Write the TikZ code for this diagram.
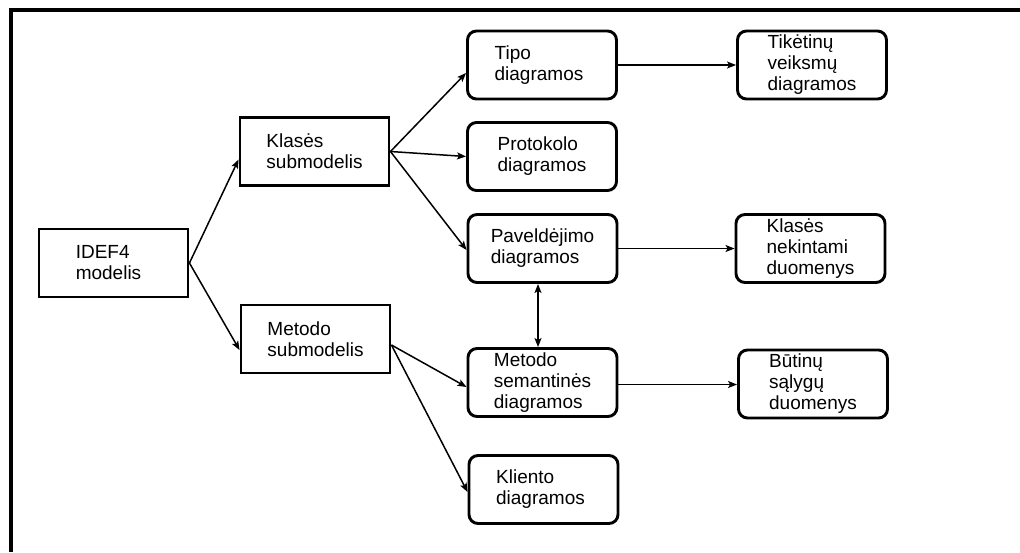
\documentclass[tikz,border=0pt]{standalone}
\usepackage{fontspec}
\setmainfont{Liberation Sans}
\usetikzlibrary{calc,arrows.meta}
\begin{document}
\begin{tikzpicture}[x=1pt,y=-1pt,
  txt/.style={font=\fontsize{19pt}{21pt}\selectfont, align=left},
  sqbox/.style={txt, draw, line width=2.9pt, rectangle, inner sep=0pt,
    minimum width=149pt, minimum height=68pt},
  rbox/.style={sqbox, rounded corners=9pt},
  link/.style={line width=1.5pt, -{Stealth[length=9pt,width=7pt,inset=2pt]}},
  dlink/.style={line width=1.5pt, {Stealth[length=9pt,width=7pt,inset=2pt]}-{Stealth[length=9pt,width=7pt,inset=2pt]}}]
\useasboundingbox (0,0) rectangle (1020,552);
% outer frame (top and left edges)
\draw[line width=3.3pt] (11,552) -- (11,10) -- (1030,10);

% left column
\node[sqbox] (idef)   at (113.5,263)   {IDEF4\\modelis\hspace*{10pt}};
\node[sqbox] (klases) at (314.5,151.5) {Klasės\\submodelis};
\node[sqbox] (metsub) at (315.5,339)   {Metodo\\submodelis};

% middle column
\node[rbox] (tipo)   at (542,65)      {Tipo\\diagramos\hspace*{6pt}};
\node[rbox] (proto)  at (542,156.5)   {Protokolo\\diagramos};
\node[rbox] (pav)    at (542.5,248.5) {Paveldėjimo\\diagramos};
\node[rbox] (metsem) at (542.5,382.5) {Metodo\\semantinės\\diagramos};
\node[rbox] (klient) at (543.5,489.5) {Kliento\\diagramos\hspace*{6pt}};

% right column
\node[rbox] (tiket)  at (812,65)      {Tikėtinų\\veiksmų\\diagramos};
\node[rbox] (klnek)  at (810.5,248.5) {Klasės\\nekintami\\duomenys};
\node[rbox] (butinu) at (813,384)     {Būtinų\\sąlygų\\duomenys};

% connectors
\draw[link] (idef.east) -- ($(klases.west)+(0,8)$);
\draw[link] (idef.east) -- ($(metsub.west)+(0,11)$);

\draw[link] (klases.east) -- ($(tipo.west)+(0,8)$);
\draw[link] (klases.east) -- (proto.west);
\draw[link] (klases.east) -- ($(pav.west)+(0,1.5)$);

\draw[link] ($(metsub.east)+(0,6)$) coordinate (ms) -- ($(metsem.west)+(0,4.5)$);
\draw[link] (ms) -- ($(klient.west)+(0,2.5)$);

\draw[link] (tipo.east) -- (tiket.west |- tipo.east);
\draw[link] (pav.east) -- (klnek.west |- pav.east);
\draw[link] ($(metsem.east)+(0,2)$) coordinate (me) -- (butinu.west |- me);

\draw[dlink] ($(pav.south)+(-4.5,0)$) -- ($(metsem.north)+(-4.5,0)$);
\end{tikzpicture}
\end{document}
